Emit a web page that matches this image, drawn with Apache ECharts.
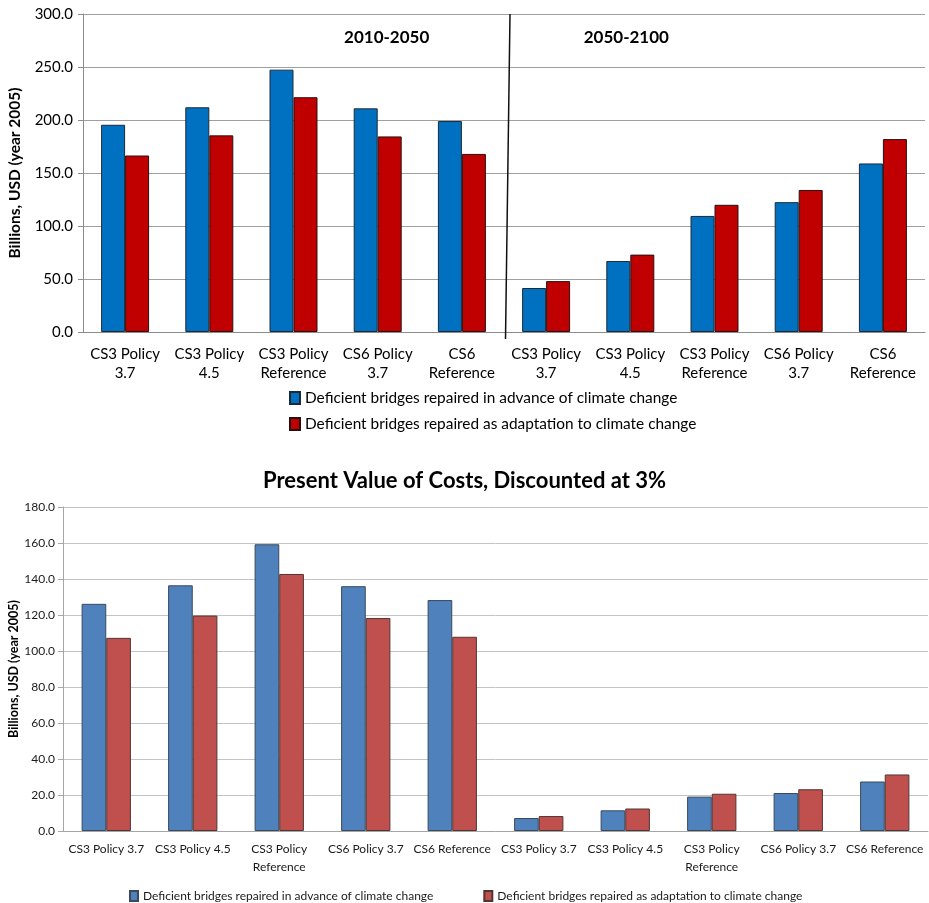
<!DOCTYPE html>
<html>
<head>
<meta charset="utf-8">
<script src="https://cdn.jsdelivr.net/npm/echarts@6/dist/echarts.min.js"></script>
<style>
  html, body { margin: 0; padding: 0; background: #fff; }
  #top { position: absolute; left: 0; top: 0; width: 929px; height: 440px; }
  #bottom { position: absolute; left: 0; top: 440px; width: 929px; height: 463px; }
</style>
</head>
<body>
<div id="top"></div>
<div id="bottom"></div>
<script>
// Scenario labels (two periods, five scenarios each)
const topCategories = [
  'CS3 Policy\n3.7', 'CS3 Policy\n4.5', 'CS3 Policy\nReference', 'CS6 Policy\n3.7', 'CS6\nReference',
  'CS3 Policy\n3.7', 'CS3 Policy\n4.5', 'CS3 Policy\nReference', 'CS6 Policy\n3.7', 'CS6\nReference'
];
const pvCategories = [
  'CS3 Policy 3.7', 'CS3 Policy 4.5', 'CS3 Policy\nReference', 'CS6 Policy 3.7', 'CS6 Reference',
  'CS3 Policy 3.7', 'CS3 Policy 4.5', 'CS3 Policy\nReference', 'CS6 Policy 3.7', 'CS6 Reference'
];
const seriesNames = [
  'Deficient bridges repaired in advance of climate change',
  'Deficient bridges repaired as adaptation to climate change'
];
const periodLabels = ['2010-2050', '2050-2100'];

// Undiscounted costs, billions USD (year 2005)
const topAdvance = [195.5, 212.0, 247.5, 211.0, 199.0, 41.5, 67.0, 109.5, 122.5, 159.0];
const topAdapt   = [166.5, 185.5, 221.5, 184.5, 168.0, 48.0, 73.0, 120.0, 134.0, 182.0];

// Present value, discounted at 3%
const pvAdvance = [126.2, 136.5, 159.3, 136.0, 128.3, 7.2, 11.5, 19.1, 21.1, 27.5];
const pvAdapt   = [107.3, 119.7, 142.8, 118.3, 107.9, 8.3, 12.5, 20.7, 23.2, 31.4];

const FONT = 'Lato, "Open Sans", sans-serif';

function barSeries(name, data, color, border) {
  return {
    type: 'bar', name: name, data: data,
    barGap: '0%', barCategoryGap: '43%',
    itemStyle: { color: color, borderColor: border, borderWidth: 1 },
    emphasis: { disabled: true }
  };
}

// ---------- Top chart: undiscounted costs ----------
const topChart = echarts.init(document.getElementById('top'), null, { renderer: 'canvas' });
topChart.setOption({
  animation: false,
  textStyle: { fontFamily: FONT },
  grid: { left: 83, right: 4, top: 14, bottom: 108, containLabel: false, outerBoundsMode: 'none' },
  legend: {
    orient: 'vertical', left: 284, top: 385, icon: 'rect',
    itemWidth: 10, itemHeight: 12, itemGap: 10,
    textStyle: { fontFamily: FONT, fontSize: 15.4, color: '#000', lineHeight: 16 },
    data: seriesNames
  },
  xAxis: {
    type: 'category', data: topCategories,
    axisLine: { lineStyle: { color: '#8c8c8c' } },
    axisTick: { length: 5, lineStyle: { color: '#8c8c8c' } },
    axisLabel: { fontFamily: FONT, fontSize: 15, color: '#000', lineHeight: 19, margin: 13, interval: 0 }
  },
  yAxis: {
    type: 'value', min: 0, max: 300, interval: 50,
    name: 'Billions, USD (year 2005)', nameLocation: 'middle', nameRotate: 90, nameGap: 60,
    nameMoveOverlap: false,
    nameTextStyle: { fontFamily: FONT, fontSize: 15.5, fontWeight: 'bold', color: '#000' },
    axisLine: { show: true, lineStyle: { color: '#8c8c8c' } },
    axisTick: { show: true, length: 5, lineStyle: { color: '#8c8c8c' } },
    axisLabel: { fontFamily: FONT, fontSize: 15, color: '#000', margin: 10, formatter: v => v.toFixed(1) },
    splitLine: { lineStyle: { color: '#a0a0a0' } }
  },
  series: [
    barSeries(seriesNames[0], topAdvance, '#0070C0', '#1c2a38'),
    barSeries(seriesNames[1], topAdapt, '#C00000', '#2a1010')
  ]
});

// Period divider and period headings, placed from the axis scale
(function () {
  const c4 = topChart.convertToPixel({ xAxisIndex: 0 }, 4);
  const c5 = topChart.convertToPixel({ xAxisIndex: 0 }, 5);
  const boundary = (c4 + c5) / 2;
  const yTop = topChart.convertToPixel({ yAxisIndex: 0 }, 300);
  const yZero = topChart.convertToPixel({ yAxisIndex: 0 }, 0);
  const c3 = topChart.convertToPixel({ xAxisIndex: 0 }, 3);
  const c6 = topChart.convertToPixel({ xAxisIndex: 0 }, 6);
  const yHead = topChart.convertToPixel({ yAxisIndex: 0 }, 278);
  topChart.setOption({
    graphic: [
      { type: 'line', shape: { x1: boundary + 6, y1: yTop, x2: boundary + 1.5, y2: yZero + 7 },
        style: { stroke: '#111', lineWidth: 1.5 }, z: 10 },
      { type: 'text', x: c3 + 9, y: yHead, z: 10,
        style: { text: periodLabels[0], fontFamily: FONT, fontSize: 17, fontWeight: 'bold', fill: '#000',
                 align: 'center', verticalAlign: 'middle' } },
      { type: 'text', x: c6 - 4, y: yHead, z: 10,
        style: { text: periodLabels[1], fontFamily: FONT, fontSize: 17, fontWeight: 'bold', fill: '#000',
                 align: 'center', verticalAlign: 'middle' } }
    ]
  });
})();

// ---------- Bottom chart: present value at 3% ----------
const pvChart = echarts.init(document.getElementById('bottom'), null, { renderer: 'canvas' });
pvChart.setOption({
  animation: false,
  textStyle: { fontFamily: FONT },
  title: {
    text: 'Present Value of Costs, Discounted at 3%', left: 'center', top: 25,
    textStyle: { fontFamily: FONT, fontSize: 22, fontWeight: 'bold', color: '#000' }
  },
  grid: { left: 63, right: 1, top: 67, bottom: 72, containLabel: false, outerBoundsMode: 'none' },
  legend: {
    orient: 'horizontal', left: 124, top: 445, icon: 'rect',
    itemWidth: 8, itemHeight: 10, itemGap: 50,
    textStyle: { fontFamily: FONT, fontSize: 12, color: '#1a1a1a' },
    data: seriesNames
  },
  xAxis: {
    type: 'category', data: pvCategories,
    axisLine: { lineStyle: { color: '#a6a6a6' } },
    axisTick: { length: 5, lineStyle: { color: '#a6a6a6' } },
    axisLabel: { fontFamily: FONT, fontSize: 12, color: '#1a1a1a', lineHeight: 18, margin: 9, interval: 0 }
  },
  yAxis: {
    type: 'value', min: 0, max: 180, interval: 20,
    name: 'Billions, USD (year 2005)', nameLocation: 'middle', nameRotate: 90, nameGap: 43,
    nameMoveOverlap: false,
    nameTextStyle: { fontFamily: FONT, fontSize: 12.5, fontWeight: 'bold', color: '#000' },
    axisLine: { show: true, lineStyle: { color: '#a6a6a6' } },
    axisTick: { show: true, length: 5, lineStyle: { color: '#a6a6a6' } },
    axisLabel: { fontFamily: FONT, fontSize: 12, color: '#1a1a1a', margin: 8, formatter: v => v.toFixed(1) },
    splitLine: { lineStyle: { color: '#c4c4c4' } }
  },
  series: [
    barSeries(seriesNames[0], pvAdvance, '#4F81BD', '#3a4a5c'),
    barSeries(seriesNames[1], pvAdapt, '#C0504D', '#4f3635')
  ]
});
</script>
</body>
</html>
